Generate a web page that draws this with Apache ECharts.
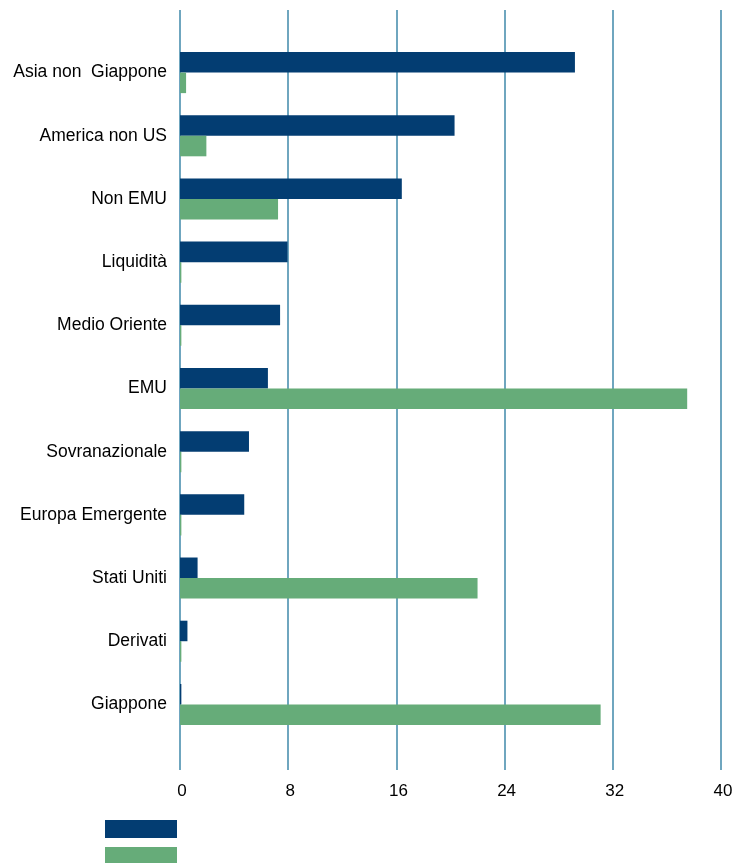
<!DOCTYPE html>
<html>
<head>
<meta charset="utf-8">
<script src="https://cdn.jsdelivr.net/npm/echarts@6/dist/echarts.min.js"></script>
<style>
  html, body { margin: 0; padding: 0; background: #ffffff; }
  #chart { width: 733px; height: 863px; }
</style>
</head>
<body>
<div id="chart"></div>
<script>
// Allocation by area: two series of percentage weights
const categories = [
  'Asia non  Giappone',
  'America non US',
  'Non EMU',
  'Liquidità',
  'Medio Oriente',
  'EMU',
  'Sovranazionale',
  'Europa Emergente',
  'Stati Uniti',
  'Derivati',
  'Giappone'
];
const seriesA = [29.2, 20.3, 16.4, 7.95, 7.4, 6.5, 5.1, 4.75, 1.3, 0.55, 0.1];
const seriesB = [0.45, 1.95, 7.25, 0.1, 0.1, 37.5, 0.1, 0.1, 22.0, 0.1, 31.1];
const xTicks = { min: 0, max: 40, interval: 8 };

const FONT = "'Liberation Sans', Arial, sans-serif";
const BLUE = '#033d72';
const GREEN = '#66ac79';
const GRIDLINE = '#6fa6bf';

const chart = echarts.init(document.getElementById('chart'), null, { renderer: 'canvas' });

chart.setOption({
  animation: false,
  backgroundColor: '#ffffff',
  grid: [
    // bars
    { left: 180, width: 541, top: 41, height: 695, containLabel: false, outerBoundsMode: 'none' },
    // vertical gridlines and tick labels
    { left: 180, width: 541, top: 10, height: 760, containLabel: false, outerBoundsMode: 'none' }
  ],
  xAxis: [
    { gridIndex: 0, type: 'value', min: xTicks.min, max: xTicks.max, interval: xTicks.interval, show: false },
    {
      gridIndex: 1, type: 'value', min: xTicks.min, max: xTicks.max, interval: xTicks.interval,
      axisLine: { show: false },
      axisTick: { show: false },
      axisLabel: { margin: 13, color: '#000', fontSize: 17, fontFamily: FONT, padding: [0, 0, 0, 4] },
      splitLine: { show: true, lineStyle: { color: GRIDLINE, width: 2 } }
    }
  ],
  yAxis: [
    {
      gridIndex: 0, type: 'category', data: categories, inverse: true,
      axisLine: { show: false },
      axisTick: { show: false },
      axisLabel: { margin: 13, color: '#000', fontSize: 17.5, fontFamily: FONT, padding: [7, 0, 0, 0] }
    },
    { gridIndex: 1, type: 'value', min: 0, max: 1, show: false }
  ],
  legend: {
    orient: 'vertical',
    left: 105,
    top: 820,
    width: 80,
    height: 80,
    padding: 0,
    itemWidth: 72,
    itemHeight: 18,
    itemGap: 9,
    icon: 'rect',
    formatter: () => '',
    selectedMode: false,
    data: ['Serie 1', 'Serie 2']
  },
  series: [
    {
      name: 'Serie 1', type: 'bar', xAxisIndex: 0, yAxisIndex: 0,
      data: seriesA, barGap: '0%', barCategoryGap: '35%',
      itemStyle: { color: BLUE }
    },
    {
      name: 'Serie 2', type: 'bar', xAxisIndex: 0, yAxisIndex: 0,
      data: seriesB, barGap: '0%', barCategoryGap: '35%',
      itemStyle: { color: GREEN }
    }
  ]
});
</script>
</body>
</html>
